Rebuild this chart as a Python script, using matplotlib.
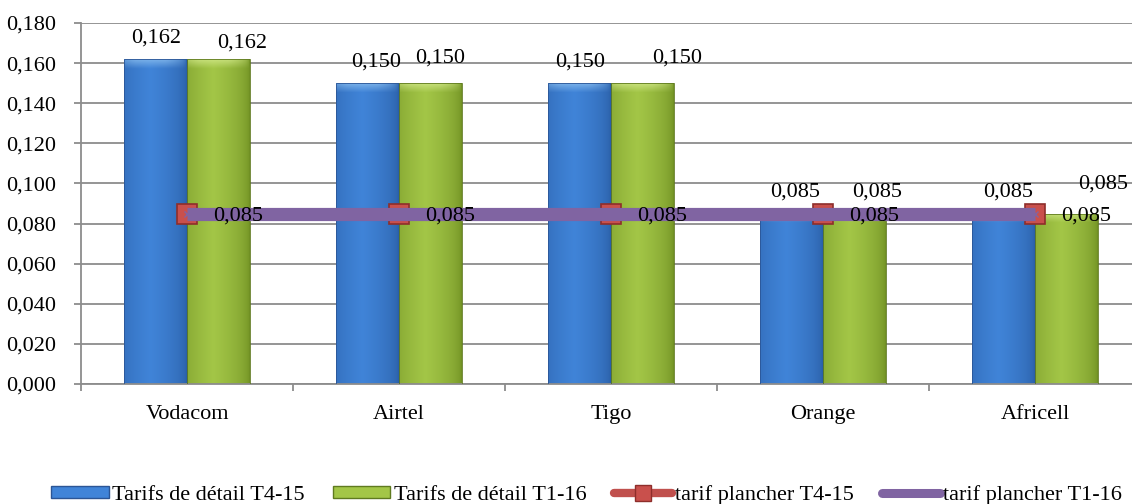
import numpy as np
import matplotlib.pyplot as plt
from matplotlib.ticker import FuncFormatter, FixedLocator
from matplotlib.patches import Patch

plt.rcParams['font.family'] = ['Liberation Serif', 'DejaVu Serif']

operateurs = ['Vodacom', 'Airtel', 'Tigo', 'Orange', 'Africell']
detail_t4_15 = [0.162, 0.150, 0.150, 0.085, 0.085]
detail_t1_16 = [0.162, 0.150, 0.150, 0.085, 0.085]
plancher_t4_15 = [0.085, 0.085, 0.085, 0.085, 0.085]
plancher_t1_16 = [0.085, 0.085, 0.085, 0.085, 0.085]
noms = ['Tarifs de détail T4-15', 'Tarifs de détail T1-16',
        'tarif plancher T4-15', 'tarif plancher T1-16']

FS = 16


def fmt(v):
    return '{:.3f}'.format(v).replace('.', ',')


def rgb(h):
    h = h.lstrip('#')
    return np.array([int(h[i:i + 2], 16) / 255 for i in (0, 2, 4)])


def degrade(ax, patch, edge, mid, light):
    # fake excel bevel: horizontal shading + light strip on top
    x0, y0 = patch.get_x(), patch.get_y()
    w, h = patch.get_width(), patch.get_height()
    nx, ny = 80, 300
    u = np.linspace(0, 1, nx)
    prof = np.clip(1 - np.abs(u - 0.42) / 0.58, 0, 1) ** 0.5
    img = edge + (mid - edge) * prof[None, :, None]
    img = np.repeat(img, ny, axis=0)
    d = np.linspace(0, 1, ny) * h
    bev = 0.0045
    wt = np.clip(1 - d / bev, 0, 1) * 0.75
    wt = wt[:, None] * np.clip(prof * 1.3, 0, 1)[None, :]
    img = img * (1 - wt[..., None]) + light * wt[..., None]
    im = ax.imshow(img, extent=(x0, x0 + w, y0, y0 + h), origin='upper',
                   aspect='auto', interpolation='bilinear', zorder=2)
    im.set_clip_path(patch)


fig = plt.figure(figsize=(11.32, 5.04), dpi=100)
ax = fig.add_axes([81 / 1132, 120 / 504, 1060 / 1132, 361 / 504])

x = np.arange(len(operateurs))
w = 0.295
b1 = ax.bar(x - w / 2, detail_t4_15, w, facecolor='none', edgecolor='#2b5595',
            linewidth=0.6, zorder=3)
b2 = ax.bar(x + w / 2, detail_t1_16, w, facecolor='none', edgecolor='#5f7a1f',
            linewidth=0.6, zorder=3)
for p in b1:
    degrade(ax, p, rgb('#2a5ea6'), rgb('#4084d8'), rgb('#8cc0f0'))
for p in b2:
    degrade(ax, p, rgb('#6f8f22'), rgb('#a3c647'), rgb('#d4ea8c'))

l1, = ax.plot(x, plancher_t4_15, color='#c0504d', lw=5, marker='s', ms=14,
              mfc='#c9504c', mec='#8e2e2b', mew=1.2, zorder=4,
              solid_capstyle='round')
l2, = ax.plot(x, plancher_t1_16, color='#8064a2', lw=9.5, marker='x', ms=4,
              mew=1, zorder=5, solid_capstyle='butt')

# data labels (offsets in pixels, as placed in the original)
off1 = [(0, 21), (8, 21), (0, 21), (3, 21), (4, 21)]
off2 = [(24, 16), (10, 25), (35, 25), (23, 21), (37, 29)]
for i in x:
    ax.annotate(fmt(detail_t4_15[i]), (x[i] - w / 2, detail_t4_15[i]),
                xytext=off1[i], textcoords='offset pixels', ha='center',
                va='center', fontsize=FS, zorder=6)
    ax.annotate(fmt(detail_t1_16[i]), (x[i] + w / 2, detail_t1_16[i]),
                xytext=off2[i], textcoords='offset pixels', ha='center',
                va='center', fontsize=FS, zorder=6)
    ax.annotate(fmt(plancher_t4_15[i]), (x[i], plancher_t4_15[i]),
                xytext=(51, -3), textcoords='offset pixels', ha='center',
                va='center', fontsize=FS, zorder=6)

ax.set_xlim(-0.5, len(operateurs) - 0.5)
ax.set_ylim(0, 0.18)
ax.set_yticks(np.arange(0, 0.181, 0.02))
ax.yaxis.set_major_formatter(FuncFormatter(lambda v, p: fmt(v)))
ax.yaxis.grid(True, color='#8c8c8c', lw=1.3)
ax.set_axisbelow(True)

ax.xaxis.set_major_locator(FixedLocator(np.arange(-0.5, len(operateurs), 1.0)))
ax.set_xticklabels([])
ax.xaxis.set_minor_locator(FixedLocator(x))
ax.set_xticklabels(operateurs, minor=True)
ax.tick_params(axis='x', which='minor', length=0, pad=15, labelsize=FS)
ax.tick_params(axis='x', which='major', length=5, width=1.3, color='#8c8c8c')
ax.tick_params(axis='y', length=5, width=1.3, color='#8c8c8c', labelsize=FS,
               pad=13)

for s in ['top', 'right']:
    ax.spines[s].set_visible(False)
for s in ['left', 'bottom']:
    ax.spines[s].set_color('#8c8c8c')
    ax.spines[s].set_linewidth(1.3)

h1 = Patch(facecolor='#4084d8', edgecolor='#2b5595')
h2 = Patch(facecolor='#a3c647', edgecolor='#5f7a1f')
lg1 = plt.Line2D([], [], color='#c0504d', lw=6, marker='s', ms=11,
                 mfc='#c9504c', mec='#8e2e2b', solid_capstyle='round')
lg2 = plt.Line2D([], [], color='#8064a2', lw=6.5, marker='x', ms=5, mew=1,
                 solid_capstyle='round')
fig.legend([h1, h2, lg1, lg2], noms, loc='center', ncol=4,
           bbox_to_anchor=(0.518, 0.018), frameon=False, fontsize=FS,
           handlelength=2.6, handleheight=0.45, handletextpad=0.15,
           columnspacing=1.25, borderpad=0)

fig.savefig('out.png', dpi=100)
